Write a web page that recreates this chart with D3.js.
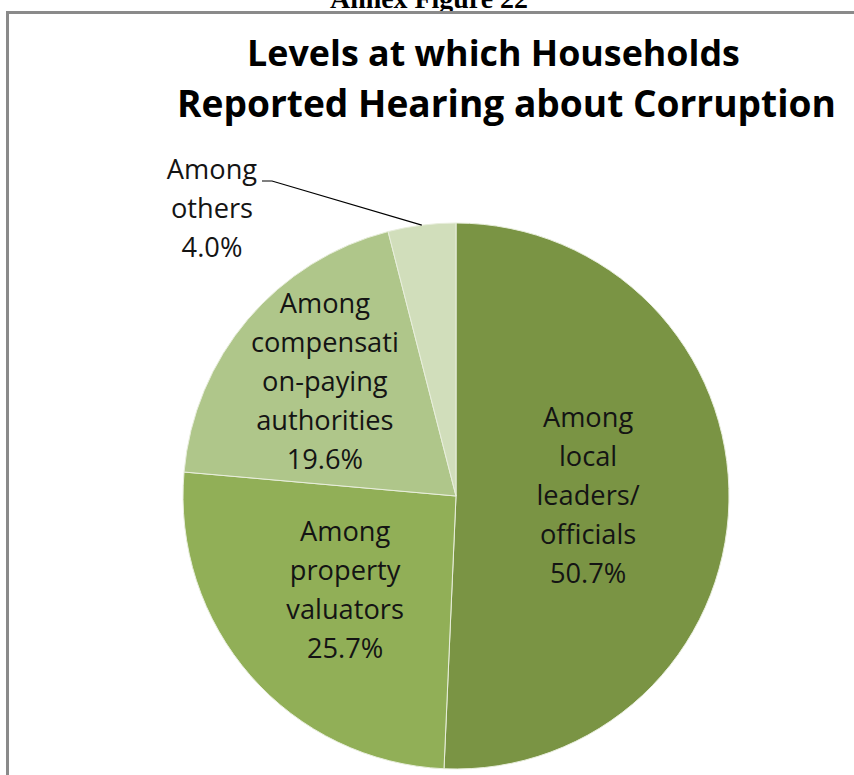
<!DOCTYPE html>
<html>
<head>
<meta charset="utf-8">
<script src="https://cdn.jsdelivr.net/npm/d3@7"></script>
<style>
  html, body { margin: 0; padding: 0; background: #fff; }
  svg { display: block; }
</style>
</head>
<body>
<svg id="chart" width="854" height="775"></svg>
<script>
// ---- data ----
const categories = [
  "Among local leaders/ officials",
  "Among property valuators",
  "Among compensation-paying authorities",
  "Among others"
];
const values = [50.7, 25.7, 19.6, 4.0];
const labelLines = [
  ["Among", "local", "leaders/", "officials", "50.7%"],
  ["Among", "property", "valuators", "25.7%"],
  ["Among", "compensati", "on-paying", "authorities", "19.6%"],
  ["Among", "others", "4.0%"]
];
const colors = ["#7A9444", "#91AF57", "#AFC68A", "#D1DEBB"];
const titleLines = ["Levels at which Households", "Reported Hearing about Corruption"];
const headerText = "Annex Figure 22";

// ---- layout ----
const svg = d3.select("#chart");
const cx = 456, cy = 496, R = 273;

function fitText(sel, target) {
  const w = sel.node().getComputedTextLength();
  const fs = parseFloat(sel.attr("font-size"));
  sel.attr("font-size", fs * target / w);
}

// header (cut off at top, as in the reference)
const hdr = svg.append("text")
  .attr("x", 429).attr("y", 8)
  .attr("text-anchor", "middle")
  .attr("font-family", "Liberation Serif, serif")
  .attr("font-weight", "bold")
  .attr("font-size", 26)
  .attr("fill", "#000")
  .text(headerText);
fitText(hdr, 198);

// chart frame (only top and left visible)
svg.append("path")
  .attr("d", "M7.5,775 L7.5,12.5 L854,12.5")
  .attr("fill", "none")
  .attr("stroke", "#8a8a8a")
  .attr("stroke-width", 3);

// title
const titleSpecs = [{x: 493.5, y: 66, w: 493}, {x: 506.5, y: 117, w: 659}];
titleLines.forEach((t, i) => {
  const s = svg.append("text")
    .attr("x", titleSpecs[i].x).attr("y", titleSpecs[i].y)
    .attr("text-anchor", "middle")
    .attr("font-family", "Open Sans, sans-serif")
    .attr("font-weight", "bold")
    .attr("font-size", 36)
    .attr("fill", "#000")
    .text(t);
  fitText(s, titleSpecs[i].w);
});

// pie
const pie = d3.pie().sort(null).value(d => d)
  .startAngle(0).endAngle(2 * Math.PI);
const arcs = pie(values);
const arc = d3.arc().innerRadius(0).outerRadius(R);
const g = svg.append("g").attr("transform", `translate(${cx},${cy})`);
g.selectAll("path.slice").data(arcs).join("path")
  .attr("class", "slice")
  .attr("d", arc)
  .attr("fill", (d, i) => colors[i])
  .attr("stroke", "#e8eedc")
  .attr("stroke-width", 1);

// label font size: measure "compensati" target width 148
const probe = svg.append("text")
  .attr("font-family", "Open Sans, sans-serif")
  .attr("font-size", 24).text("compensati");
const labelFs = 24 * 148 / probe.node().getComputedTextLength();
probe.remove();
const lineH = 39;

// label radial positions (fraction of radius) for inside labels
const labelRadius = [0.484, 0.54, 0.63];
arcs.forEach((d, i) => {
  let lx, ly;
  const mid = (d.startAngle + d.endAngle) / 2;
  if (i < 3) {
    const r = labelRadius[i] * R;
    lx = cx + r * Math.sin(mid);
    ly = cy - r * Math.cos(mid) - 3;
  } else {
    lx = 212; ly = 208;
    const ex = cx + R * Math.sin(mid), ey = cy - R * Math.cos(mid);
    svg.append("polyline")
      .attr("points", `${ex},${ey} 272,181 262,181`)
      .attr("fill", "none")
      .attr("stroke", "#000")
      .attr("stroke-width", 1.2);
  }
  const lines = labelLines[i];
  const t = svg.append("text")
    .attr("text-anchor", "middle")
    .attr("font-family", "Open Sans, sans-serif")
    .attr("font-size", labelFs)
    .attr("fill", "#141414");
  const n = lines.length;
  lines.forEach((ln, k) => {
    t.append("tspan")
      .attr("x", lx)
      .attr("y", ly + (k - (n - 1) / 2) * lineH)
      .attr("dy", "0.35em")
      .text(ln);
  });
});
</script>
</body>
</html>
